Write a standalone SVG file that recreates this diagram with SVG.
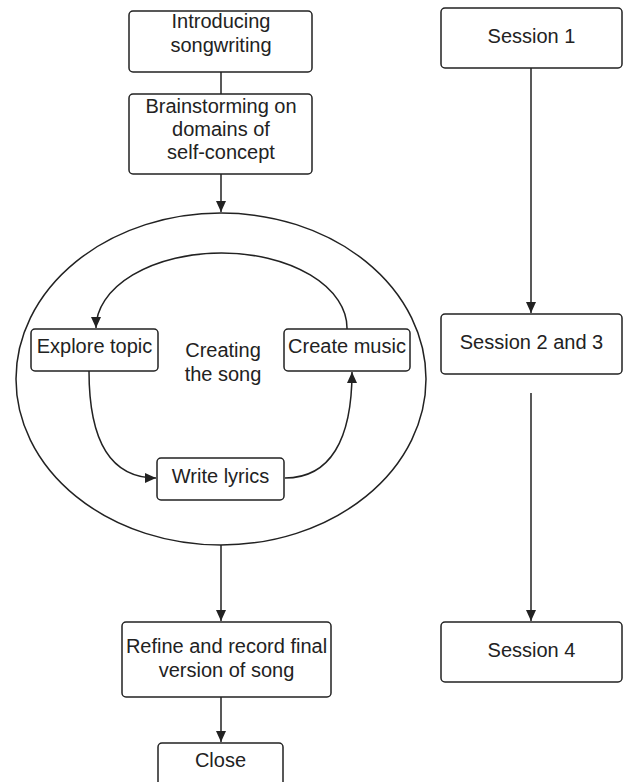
<svg xmlns="http://www.w3.org/2000/svg" width="623" height="782" viewBox="0 0 623 782">
<style>
.box{fill:#fff;stroke:#222;stroke-width:1.5}
.t{font-family:"Liberation Sans",Arial,sans-serif;font-size:20px;fill:#222;text-anchor:middle}
.c{fill:none;stroke:#222;stroke-width:1.5}
</style>
<defs>
<marker id="ah" markerUnits="userSpaceOnUse" markerWidth="12" markerHeight="10" refX="11" refY="5" orient="auto">
<path d="M0,0 L11,5 L0,10 z" fill="#222"/>
</marker>
</defs>
<rect width="623" height="782" fill="#fff"/>
<g id="loop">
<ellipse cx="221" cy="379" rx="205" ry="166" class="c"/>
</g>
<g id="connectors">
<path class="c" d="M221,72 L221,94"/>
<path class="c" d="M221,174 L221,212" marker-end="url(#ah)"/>
<path class="c" d="M221,545 L221,621" marker-end="url(#ah)"/>
<path class="c" d="M221,697 L221,742" marker-end="url(#ah)"/>
<path class="c" d="M347,329 L347,328 A125.5,75 0 0 0 96,328" marker-end="url(#ah)"/>
<path class="c" d="M89,371 C89,440 110,478 156,478" marker-end="url(#ah)"/>
<path class="c" d="M285,478 C330,478 352,440 352,372" marker-end="url(#ah)"/>
<path class="c" d="M531,68 L531,313" marker-end="url(#ah)"/>
<path class="c" d="M531,393 L531,621" marker-end="url(#ah)"/>
</g>
<g id="introducing">
<rect class="box" x="129" y="11" width="183" height="61" rx="4"/>
<text class="t" x="221" y="28">Introducing</text>
<text class="t" x="221" y="52">songwriting</text>
</g>
<g id="brainstorming">
<rect class="box" x="129" y="94" width="183" height="80" rx="4"/>
<text class="t" x="221" y="113">Brainstorming on</text>
<text class="t" x="221" y="136">domains of</text>
<text class="t" x="221" y="159">self-concept</text>
</g>
<g id="creating">
<text class="t" x="223" y="357">Creating</text>
<text class="t" x="223" y="381">the song</text>
</g>
<g id="explore">
<rect class="box" x="31" y="329" width="127" height="42" rx="4"/>
<text class="t" x="94.5" y="353">Explore topic</text>
</g>
<g id="music">
<rect class="box" x="284" y="329" width="126" height="42" rx="4"/>
<text class="t" x="347" y="353">Create music</text>
</g>
<g id="lyrics">
<rect class="box" x="157" y="458" width="127" height="42" rx="4"/>
<text class="t" x="220.5" y="483">Write lyrics</text>
</g>
<g id="refine">
<rect class="box" x="122" y="622" width="209" height="75" rx="4"/>
<text class="t" x="226.5" y="653">Refine and record final</text>
<text class="t" x="226.5" y="677">version of song</text>
</g>
<g id="close">
<rect class="box" x="158" y="743" width="125" height="50" rx="4"/>
<text class="t" x="220.5" y="767">Close</text>
</g>
<g id="session1">
<rect class="box" x="441" y="8" width="181" height="60" rx="4"/>
<text class="t" x="531.5" y="43">Session 1</text>
</g>
<g id="session23">
<rect class="box" x="441" y="314" width="181" height="60" rx="4"/>
<text class="t" x="531.5" y="349">Session 2 and 3</text>
</g>
<g id="session4">
<rect class="box" x="441" y="622" width="181" height="60" rx="4"/>
<text class="t" x="531.5" y="657">Session 4</text>
</g>
</svg>
